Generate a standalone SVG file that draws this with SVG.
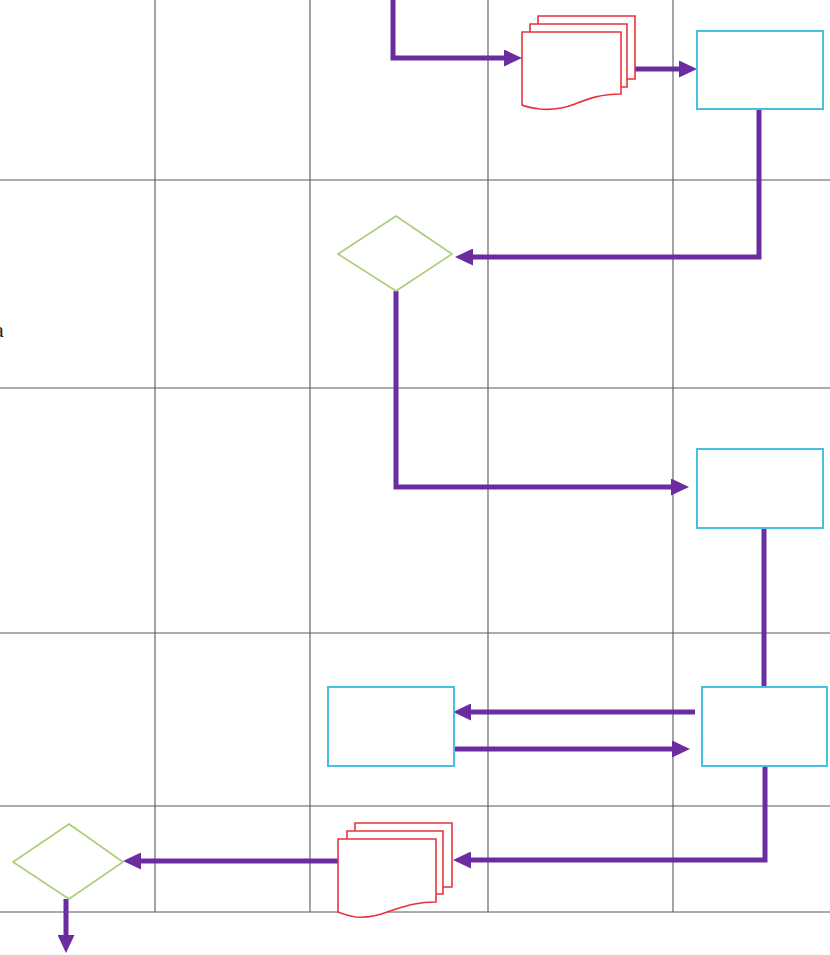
<svg xmlns="http://www.w3.org/2000/svg" width="830" height="955" viewBox="0 0 830 955">
<style>
.grid{stroke:#5a5a5a;stroke-width:1.1;fill:none}
.conn{stroke:#6a2c9e;stroke-width:5;fill:none;stroke-linejoin:miter}
.box{fill:#fff;stroke:#45c0e0;stroke-width:2}
.dia{fill:#fff;stroke:#a8d070;stroke-width:1.6}
.doc{fill:#fff;stroke:#e8333a;stroke-width:1.6}
.lbl{font-family:"Liberation Serif",serif;font-size:22px;fill:#222}
</style>
<defs>
<marker id="ah" markerUnits="userSpaceOnUse" markerWidth="18" markerHeight="17" refX="0" refY="8.5" orient="auto">
<path d="M0,0 L18,8.5 L0,17 Z" fill="#6a2c9e"/>
</marker>
</defs>
<rect width="830" height="955" fill="#fff"/>
<g id="grid">
<path class="grid" d="M155,0V912 M310,0V912 M488,0V912 M673,0V912 M0,180H830 M0,388H830 M0,633H830 M0,806H830 M0,912H830"/>
</g>
<text class="lbl" x="-6" y="337">a</text>
<g id="connectors">
<path class="conn" d="M393,0 V58 H504" marker-end="url(#ah)"/>
<path class="conn" d="M635,69 H679" marker-end="url(#ah)"/>
<path class="conn" d="M759,109 V257 H473" marker-end="url(#ah)"/>
<path class="conn" d="M396,291 V487 H671" marker-end="url(#ah)"/>
<path class="conn" d="M764,528 V687"/>
<path class="conn" d="M695,712 H471" marker-end="url(#ah)"/>
<path class="conn" d="M454,749 H672" marker-end="url(#ah)"/>
<path class="conn" d="M765,766 V860 H471" marker-end="url(#ah)"/>
<path class="conn" d="M338,861 H141" marker-end="url(#ah)"/>
<path class="conn" d="M66,899 V935" marker-end="url(#ah)"/>
</g>
<g id="doc1">
<path class="doc" d="M538,24 V16 H635 V79 H627"/>
<path class="doc" d="M530,32 V24 H627 V87 H621"/>
<path class="doc" d="M522,32 H621 V94 C600,94 588,99 575,104 C562,109 550,110 540,109 C532,108 526,107 522,105 Z"/>
</g>
<g id="box1"><rect class="box" x="697" y="31" width="126" height="78"/></g>
<g id="diamond1"><path class="dia" d="M396,216 L452,254 L396,291 L338,254 Z"/></g>
<g id="box2"><rect class="box" x="697" y="449" width="126" height="79"/></g>
<g id="box3"><rect class="box" x="702" y="687" width="125" height="79"/></g>
<g id="box4"><rect class="box" x="328" y="687" width="126" height="79"/></g>
<g id="doc2">
<path class="doc" d="M355,831 V823 H452 V887 H443"/>
<path class="doc" d="M347,839 V831 H443 V894 H436"/>
<path class="doc" d="M338,839 H436 V902 C415,902 403,907 390,911 C377,916 366,918 356,917 C348,916 343,914 338,912 Z"/>
</g>
<g id="diamond2"><path class="dia" d="M69,824 L123,862 L69,899 L13,862 Z"/></g>
</svg>
